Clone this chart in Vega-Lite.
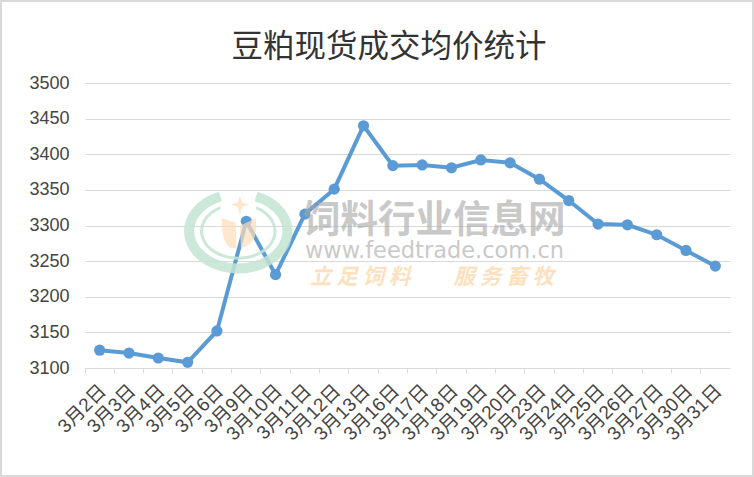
{"$schema":"https://vega.github.io/schema/vega-lite/v6.json","width":754,"height":477,"padding":0,"autosize":"none","background":"white","title":{"text":"豆粕现货成交均价统计","font":"Noto Sans CJK SC","fontSize":31.5,"fontWeight":"normal","color":"#333333","anchor":"middle","dx":12,"dy":67},"datasets":{"main":[{"d":"3月2日","v":3125},{"d":"3月3日","v":3121},{"d":"3月4日","v":3114},{"d":"3月5日","v":3108},{"d":"3月6日","v":3152},{"d":"3月9日","v":3306},{"d":"3月10日","v":3231},{"d":"3月11日","v":3316},{"d":"3月12日","v":3351},{"d":"3月13日","v":3440},{"d":"3月16日","v":3384},{"d":"3月17日","v":3385},{"d":"3月18日","v":3381},{"d":"3月19日","v":3392},{"d":"3月20日","v":3388},{"d":"3月23日","v":3365},{"d":"3月24日","v":3335},{"d":"3月25日","v":3302},{"d":"3月26日","v":3301},{"d":"3月27日","v":3287},{"d":"3月30日","v":3265},{"d":"3月31日","v":3243}],"logo":[{"d":"3月9日","v":3292}],"wm1":[{"d":"3月11日","v":3306,"t":"饲料行业信息网"}],"wm2":[{"d":"3月11日","v":3264,"t":"www.feedtrade.com.cn"}],"wm3":[{"d":"3月11日","v":3226,"t":"立 足 饲 料"}],"wm4":[{"d":"3月18日","v":3226,"t":"服 务 畜 牧"}]},"encoding":{"x":{"field":"d","type":"ordinal","sort":null,"title":null,"scale":{"type":"band","paddingInner":0,"paddingOuter":0,"range":[85,730],"domain":["3月2日","3月3日","3月4日","3月5日","3月6日","3月9日","3月10日","3月11日","3月12日","3月13日","3月16日","3月17日","3月18日","3月19日","3月20日","3月23日","3月24日","3月25日","3月26日","3月27日","3月30日","3月31日"]},"axis":{"offset":-109,"bandPosition":0,"labelAngle":-45,"labelFont":"Liberation Sans, Noto Sans CJK SC","labelFontSize":19,"labelColor":"#444444","labelOverlap":false,"labelOffset":-3,"ticks":true,"tickSize":5,"tickColor":"#D9D9D9","domainColor":"#D9D9D9","grid":false,"labelPadding":8}},"y":{"field":"v","type":"quantitative","title":null,"scale":{"domain":[3100,3500],"nice":false,"zero":false,"range":[368,83]},"axis":{"offset":-85,"values":[3100,3150,3200,3250,3300,3350,3400,3450,3500],"format":"d","labelFont":"Liberation Sans","labelFontSize":18,"labelColor":"#444444","ticks":false,"domain":false,"grid":true,"gridColor":"#D9D9D9","labelPadding":16}}},"layer":[{"data":{"name":"main"},"mark":{"type":"line","color":"#5B9BD5","strokeWidth":4,"clip":false,"point":{"filled":true,"size":125,"color":"#5B9BD5","opacity":1}}},{"data":{"name":"logo"},"mark":{"type":"point","size":11664,"xOffset":-8,"filled":false,"stroke":"#C4E4D3","strokeWidth":10,"opacity":0.85,"shape":"M0.33,-0.643 A0.91,0.69 0 1 1 -0.33,-0.643"}},{"data":{"name":"logo"},"mark":{"type":"point","size":11664,"xOffset":-8,"filled":false,"stroke":"#C4E4D3","strokeWidth":3,"opacity":0.85,"shape":"M0.33,-0.437 A0.68,0.5 0 1 1 -0.33,-0.437"}},{"data":{"name":"logo"},"mark":{"type":"point","size":11664,"xOffset":-8,"filled":true,"fill":"#FDDDB8","opacity":0.7,"shape":"M-0.31,-0.24 L-0.05,-0.16 L-0.03,0.31 L-0.15,0.31 Q-0.31,0.2 -0.31,-0.24 Z M0.33,-0.24 L0.33,0.0 Q0.3,0.25 0.05,0.31 L0.03,-0.1 Z M0.03,-0.66 L0.07,-0.53 L0.19,-0.49 L0.07,-0.45 L0.03,-0.3 L-0.01,-0.45 L-0.13,-0.49 L-0.01,-0.53 Z"}},{"data":{"name":"wm1"},"mark":{"type":"text","align":"left","baseline":"middle","xOffset":-2,"font":"Noto Sans CJK SC","fontWeight":"bold","fontSize":37.5,"color":"#A6A6A6","opacity":0.6},"encoding":{"text":{"field":"t"}}},{"data":{"name":"wm2"},"mark":{"type":"text","align":"left","baseline":"middle","font":"DejaVu Sans","fontSize":22.5,"color":"#A6A6A6","opacity":0.6},"encoding":{"text":{"field":"t"}}},{"data":{"name":"wm3"},"mark":{"type":"text","align":"left","baseline":"middle","xOffset":5,"font":"Noto Sans CJK SC","fontWeight":"bold","fontStyle":"italic","fontSize":21.5,"color":"#FDDDB8","opacity":0.9},"encoding":{"text":{"field":"t"}}},{"data":{"name":"wm4"},"mark":{"type":"text","align":"left","baseline":"middle","xOffset":2,"font":"Noto Sans CJK SC","fontWeight":"bold","fontStyle":"italic","fontSize":21.5,"color":"#FDDDB8","opacity":0.9},"encoding":{"text":{"field":"t"}}}],"config":{"view":{"stroke":"#D9D9D9","strokeWidth":4}}}
